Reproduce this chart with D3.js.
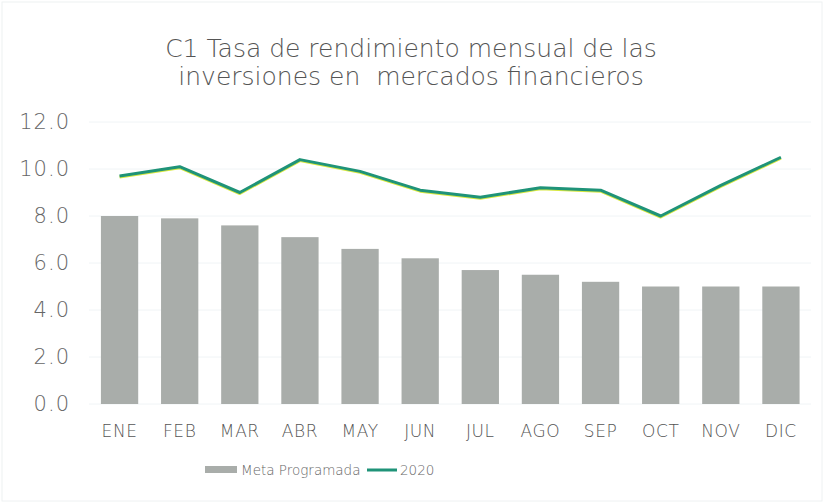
<!DOCTYPE html>
<html><head><meta charset="utf-8">
<script src="https://cdn.jsdelivr.net/npm/d3@7"></script>
<style>body{margin:0;background:#fff}svg{display:block}text{font-family:"DejaVu Sans",sans-serif;font-weight:200;white-space:pre}</style>
</head><body>
<svg id="c" width="824" height="503"></svg>
<script>
const months = ["ENE","FEB","MAR","ABR","MAY","JUN","JUL","AGO","SEP","OCT","NOV","DIC"];
const meta = [8.0,7.9,7.6,7.1,6.6,6.2,5.7,5.5,5.2,5.0,5.0,5.0];
const y2020 = [9.7,10.1,9.0,10.4,9.9,9.1,8.8,9.2,9.1,8.0,9.3,10.5];
const yTicks = [0,2,4,6,8,10,12];
const titleLines = ["C1 Tasa de rendimiento mensual de las","inversiones en  mercados financieros"];

const svg = d3.select("#c");
svg.append("rect").attr("x",2).attr("y",2).attr("width",820).attr("height",499).attr("fill","#fff").attr("stroke","#eef1f2");

const x = d3.scaleBand().domain(months).range([89.5,811]).paddingInner(0.38).paddingOuter(0.19);
const y = d3.scaleLinear().domain([0,12]).range([404,122]);

svg.append("g").selectAll("line").data(yTicks).join("line")
  .attr("x1",89).attr("x2",811).attr("y1",d=>y(d)).attr("y2",d=>y(d))
  .attr("stroke","#f0f4f6").attr("stroke-width",1);

const yAxis = svg.append("g").attr("transform","translate(70,0)")
  .call(d3.axisLeft(y).tickValues(yTicks).tickFormat(d3.format(".1f")).tickSize(0).tickPadding(0));
yAxis.select(".domain").remove();
yAxis.selectAll("text").attr("font-size",21).attr("letter-spacing",1).attr("fill","#666").attr("font-family","'DejaVu Sans',sans-serif").attr("font-weight",200);

svg.append("g").selectAll("rect").data(meta).join("rect")
  .attr("x",(d,i)=>x(months[i])).attr("width",x.bandwidth())
  .attr("y",d=>y(d)).attr("height",d=>y(0)-y(d)).attr("fill","#a9adaa");

const xAxis = svg.append("g").attr("transform","translate(0,421)")
  .call(d3.axisBottom(x).tickSize(0).tickPadding(4));
xAxis.select(".domain").remove();
xAxis.selectAll("text").attr("font-size",17).attr("letter-spacing",0.6).attr("fill","#555").attr("font-family","'DejaVu Sans',sans-serif").attr("font-weight",200);

const line = d3.line().x((d,i)=>x(months[i])+x.bandwidth()/2).y(d=>y(d));
svg.append("path").datum(y2020).attr("d",line).attr("fill","none")
  .attr("stroke","#d8e840").attr("stroke-width",3).attr("transform","translate(0,1)").attr("stroke-linejoin","round");
svg.append("path").datum(y2020).attr("d",line).attr("fill","none")
  .attr("stroke","#1f9378").attr("stroke-width",3).attr("stroke-linejoin","round");

svg.append("g").selectAll("text").data(titleLines).join("text")
  .attr("x",411).attr("y",(d,i)=>57+i*28).attr("text-anchor","middle")
  .attr("font-size",25).attr("fill","#555").text(d=>d);

const lg = svg.append("g");
lg.append("rect").attr("x",205).attr("y",466).attr("width",32).attr("height",7).attr("fill","#a9adaa");
lg.append("text").attr("x",241).attr("y",475).attr("font-size",13.5).attr("fill","#666").text("Meta Programada");
lg.append("line").attr("x1",367).attr("x2",397).attr("y1",470).attr("y2",470).attr("stroke","#1f9378").attr("stroke-width",3);
lg.append("text").attr("x",400).attr("y",475).attr("font-size",13.5).attr("fill","#666").text("2020");
</script>
</body></html>
